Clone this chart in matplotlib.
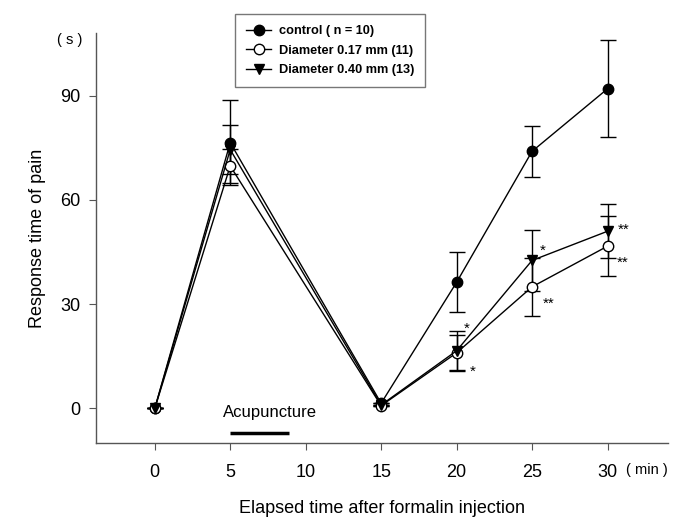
import matplotlib.pyplot as plt
from matplotlib.lines import Line2D

plt.rcParams["font.family"] = ["Liberation Sans", "DejaVu Sans"]

minutes = [0, 5, 15, 20, 25, 30]

control = [0, 76.5, 1.5, 36.3, 74.0, 92.0]
control_err = [0, 12.3, 0, 8.6, 7.3, 14.0]

d017 = [0, 69.8, 0.8, 16.0, 35.0, 46.7]
d017_err = [0, 5.0, 0, 5.0, 8.3, 8.7]

d040 = [0, 74.5, 1.0, 16.6, 42.6, 51.0]
d040_err = [0, 7.0, 0, 5.7, 8.7, 7.8]

labels = ["control ( n = 10)", "Diameter 0.17 mm (11)", "Diameter 0.40 mm (13)"]

# significance marks: (x, y, text)
stars = [
    (20.5, 22.8, "*"), (20.9, 10.5, "*"),
    (25.5, 45.5, "*"), (25.7, 30.0, "**"),
    (30.7, 51.5, "**"), (30.6, 42.0, "**"),
]

fig = plt.figure(figsize=(6.85, 5.27), dpi=100)
ax = fig.add_axes([0.140, 0.159, 0.835, 0.778])

series = [
    (control, control_err, dict(marker="o", mfc="black")),
    (d017, d017_err, dict(marker="o", mfc="white")),
    (d040, d040_err, dict(marker="v", mfc="black")),
]
handles = []
for (vals, err, style), lab in zip(series, labels):
    ax.errorbar(minutes, vals, yerr=err, color="black", mec="black", ms=7.5,
                lw=1.0, elinewidth=1.0, capsize=6, capthick=1.0, **style)
    handles.append(Line2D([], [], color="black", mec="black", ms=7.5, lw=1.0,
                          label=lab, **style))

for x, y, t in stars:
    ax.text(x, y, t, fontsize=11, ha="left", va="center")

# acupuncture bar
ax.plot([5, 8.9], [-7, -7], color="black", lw=2.5, solid_capstyle="butt")
ax.text(4.5, -1.2, "Acupuncture", fontsize=12, ha="left", va="center")

ax.set_xlim(-3.9, 34.0)
ax.set_ylim(-10, 108)
ax.set_xticks([0, 5, 10, 15, 20, 25, 30])
ax.set_yticks([0, 30, 60, 90])
ax.tick_params(labelsize=13, length=5, color="#555555", pad=6)
ax.tick_params(axis="x", pad=10)
for s in ["top", "right"]:
    ax.spines[s].set_visible(False)
for s in ["left", "bottom"]:
    ax.spines[s].set_color("#555555")
    ax.spines[s].set_linewidth(1.0)

ax.text(-0.023, 1.0, "( s )", transform=ax.transAxes, fontsize=10.5,
        ha="right", va="top")
ax.text(31.2, -17.8, "( min )", fontsize=10.5, ha="left", va="center")

ax.set_ylabel("Response time of pain", fontsize=13, labelpad=10)
ax.set_xlabel("Elapsed time after formalin injection", fontsize=13, labelpad=14)

leg = ax.legend(handles=handles, loc="upper left", bbox_to_anchor=(0.232, 1.062),
                frameon=True, fancybox=False, edgecolor="#555555",
                handlelength=2.0, handletextpad=0.6, borderpad=0.85,
                labelspacing=0.6, prop=dict(weight="bold", size=9.2))
leg.get_frame().set_linewidth(1.0)

fig.savefig("out.png", dpi=100)
